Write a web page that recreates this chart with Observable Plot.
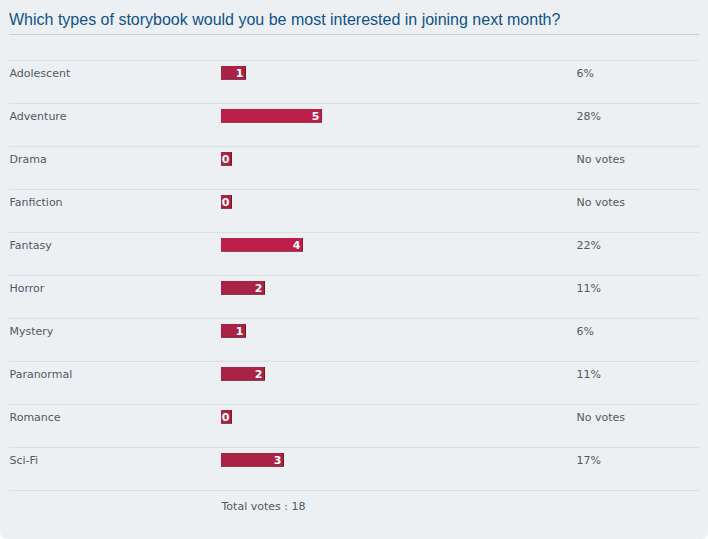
<!DOCTYPE html>
<html>
<head>
<meta charset="utf-8">
<script src="https://cdn.jsdelivr.net/npm/d3@7"></script>
<script src="https://cdn.jsdelivr.net/npm/@observablehq/plot@0.6"></script>
<style>
  html, body { margin: 0; padding: 0; background: #ffffff; }
  #panel {
    position: relative;
    width: 708px;
    height: 539px;
    background: #ecf0f3;
    border-radius: 0 0 7px 7px;
    overflow: hidden;
  }
  #title {
    margin: 0 9px;
    padding-top: 10px;
    height: 24px;
    line-height: 20px;
    border-bottom: 1px solid #cccccc;
    font-family: "Liberation Sans", Arial, sans-serif;
    font-size: 16px;
    color: #105289;
    white-space: nowrap;
  }
  #chart svg { display: block; }
</style>
</head>
<body>
<div id="panel">
  <div id="title">Which types of storybook would you be most interested in joining next month?</div>
  <div id="chart"></div>
</div>
<script>
// Poll options and the number of votes each one received
const options = ["Adolescent", "Adventure", "Drama", "Fanfiction", "Fantasy", "Horror", "Mystery", "Paranormal", "Romance", "Sci-Fi"];
const votes = [1, 5, 0, 0, 4, 2, 1, 2, 0, 3];
const noVotesLabel = "No votes";
const totalLabel = "Total votes";

const total = d3.sum(votes);
const rows = options.map((option, i) => {
  const pct = total ? (votes[i] / total) * 100 : 0;
  return {
    option,
    votes: votes[i],
    pct,
    pctLabel: votes[i] === 0 ? noVotesLabel : `${Math.round(pct)}%`
  };
});

// Bar colours follow the poll's percentage bands
const barFill = (d) => (d.pct < 20 ? "#aa2346" : "#be1e4a");
const barEdge = (d) => (d.pct < 20 ? "#74162c" : "#8c1c38");

const rowHeight = 43.2;
const font = "DejaVu Sans, Verdana, sans-serif";
const textColor = "#535862";
const barPad = -6;             // bar begins a little left of zero to hold its padding
const zeroRows = rows.filter((d) => d.votes === 0);
const votedRows = rows.filter((d) => d.votes > 0);

const barStyle = {insetTop: 6, insetBottom: rowHeight - 20, insetLeft: barPad};

const chart = Plot.plot({
  width: 708,
  height: 504,
  marginTop: 24,
  marginBottom: 48,
  marginLeft: 9,
  marginRight: 9,
  style: {background: "transparent", fontFamily: font},
  x: {domain: [0, d3.max(votes)], range: [227, 322], axis: null},
  y: {domain: options, padding: 0, axis: null},
  marks: [
    // row separators across the full frame
    Plot.ruleY(options, {y: (d) => d, dy: -rowHeight / 2, stroke: "#d8dde2", strokeWidth: 1}),
    Plot.ruleY(options.slice(-1), {y: (d) => d, dy: rowHeight / 2, stroke: "#d8dde2", strokeWidth: 1}),
    // bars: darker edge underneath, body on top
    Plot.barX(votedRows, {x1: 0, x2: "votes", y: "option", fill: barEdge, ...barStyle}),
    Plot.barX(votedRows, {x1: 0, x2: "votes", y: "option", fill: barFill, ...barStyle, insetRight: 1, insetBottom: rowHeight - 19}),
    Plot.barX(zeroRows, {x1: 0, x2: "votes", y: "option", fill: barEdge, ...barStyle, insetRight: -5}),
    Plot.barX(zeroRows, {x1: 0, x2: "votes", y: "option", fill: barFill, ...barStyle, insetRight: -4, insetBottom: rowHeight - 19}),
    // vote counts inside the bars
    Plot.text(votedRows, {x: "votes", y: "option", text: (d) => String(d.votes), dy: -8.6, dx: -3, textAnchor: "end", fill: "white", fontWeight: "bold", fontSize: 11}),
    Plot.text(zeroRows, {x: "votes", y: "option", text: (d) => String(d.votes), dy: -8.6, dx: 2, textAnchor: "end", fill: "white", fontWeight: "bold", fontSize: 11}),
    // option names
    Plot.text(rows, {y: "option", text: "option", frameAnchor: "left", dx: 0, dy: -8.6, textAnchor: "start", fill: textColor, fontSize: 11}),
    // percentages
    Plot.text(rows, {y: "option", text: "pctLabel", frameAnchor: "left", dx: 567, dy: -8.6, textAnchor: "start", fill: textColor, fontSize: 11}),
    // total
    Plot.text([`${totalLabel} : ${total}`], {frameAnchor: "bottom-left", dx: 212, dy: 18, textAnchor: "start", fill: textColor, fontSize: 11})
  ]
});

document.getElementById("chart").append(chart);
</script>
</body>
</html>
